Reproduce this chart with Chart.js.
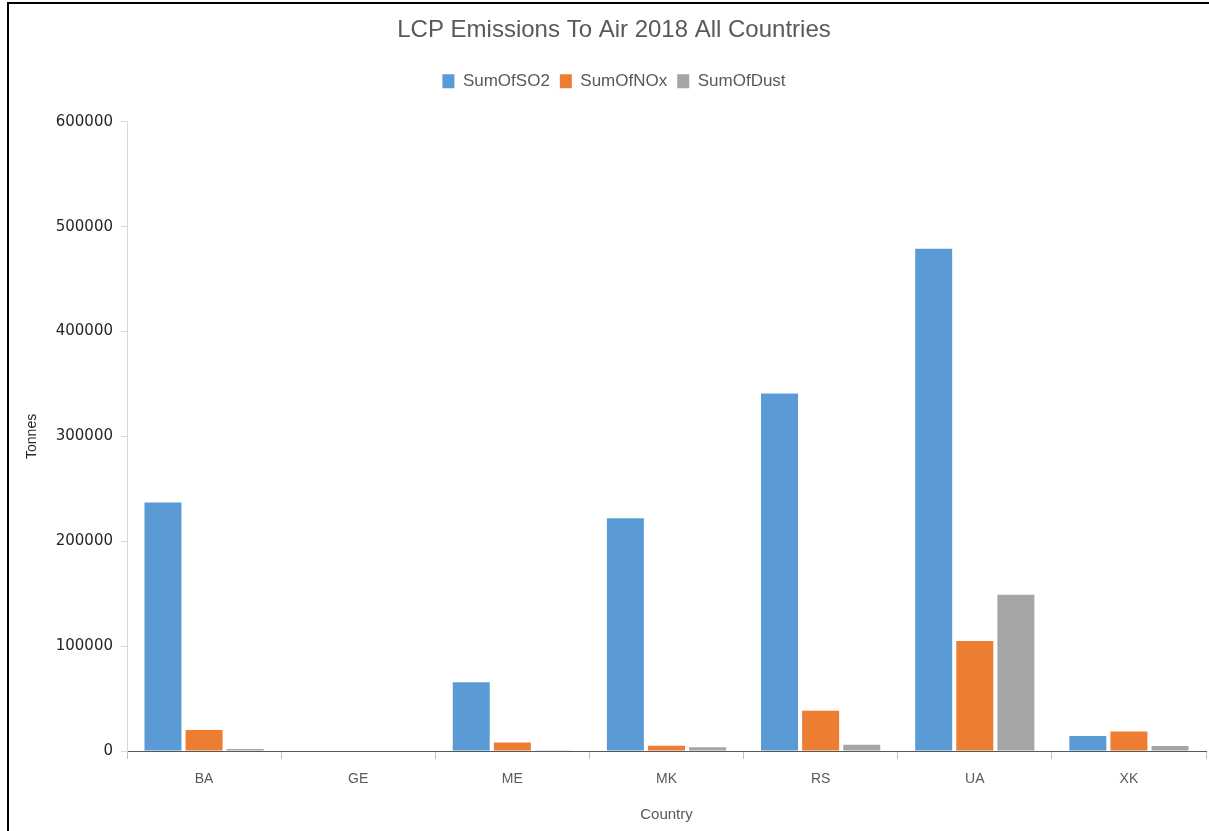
<!DOCTYPE html>
<html>
<head>
<meta charset="utf-8">
<script src="https://cdn.jsdelivr.net/npm/chart.js@4"></script>
<style>
  html, body { margin: 0; padding: 0; background: #fff; }
  #frame {
    position: absolute; left: 7px; top: 2px; width: 1300px; height: 900px;
    border: 2px solid #000; box-sizing: border-box;
  }
  #wrap { position: absolute; left: 0; top: 0; width: 1209px; height: 831px; }
</style>
</head>
<body>
<div id="frame"></div>
<div id="wrap"><canvas id="emissionsChart" width="1209" height="831"></canvas></div>
<script>
// Chart data
const countries = ['BA', 'GE', 'ME', 'MK', 'RS', 'UA', 'XK'];
const sumOfSO2 = [237000, 0, 65500, 222000, 341000, 479000, 14300];
const sumOfNOx = [20000, 0, 8000, 5000, 38500, 105000, 18500];
const sumOfDust = [2000, 0, 300, 3500, 6000, 149000, 4800];
const yTicks = [0, 100000, 200000, 300000, 400000, 500000, 600000];

const GREY_TEXT = '#595959';

// pushes the plot area down a bit below the legend
const legendMargin = {
  id: 'legendMargin',
  beforeInit(chart) {
    const origFit = chart.legend.fit;
    chart.legend.fit = function () {
      origFit.bind(chart.legend)();
      this.height += 22;
    };
  }
};

const ctx = document.getElementById('emissionsChart').getContext('2d');

new Chart(ctx, {
  type: 'bar',
  data: {
    labels: countries,
    datasets: [
      { label: 'SumOfSO2', data: sumOfSO2, backgroundColor: '#5B9BD5' },
      { label: 'SumOfNOx', data: sumOfNOx, backgroundColor: '#ED7D31' },
      { label: 'SumOfDust', data: sumOfDust, backgroundColor: '#A5A5A5' }
    ]
  },
  options: {
    responsive: false,
    animation: false,
    layout: { padding: { left: 22, right: 3, top: 0, bottom: 0 } },
    plugins: {
      title: {
        display: true,
        text: 'LCP Emissions To Air 2018 All Countries',
        color: GREY_TEXT,
        font: { family: 'Liberation Sans', size: 24, weight: 'normal' },
        padding: { top: 16, bottom: 18 }
      },
      legend: {
        position: 'top',
        labels: {
          color: GREY_TEXT,
          font: { family: 'Liberation Sans', size: 17 },
          boxWidth: 12,
          boxHeight: 14,
          padding: 10
        }
      },
      tooltip: { enabled: false }
    },
    scales: {
      x: {
        grid: { offset: true, drawOnChartArea: false, color: '#bfbfbf', tickLength: 8 },
        border: { color: '#595959', width: 1 },
        ticks: { color: GREY_TEXT, font: { family: 'Liberation Sans', size: 14 }, padding: 12 },
        title: {
          display: true, text: 'Country', color: GREY_TEXT,
          font: { family: 'Liberation Sans', size: 15 }, padding: { top: 7, bottom: 7 }
        },
        afterFit(scale) { scale.height = 80; }
      },
      y: {
        min: 0,
        max: 600000,
        afterBuildTicks(scale) { scale.ticks = yTicks.map(v => ({ value: v })); },
        grid: { drawOnChartArea: false, color: '#d9d9d9', tickLength: 6 },
        border: { color: '#d9d9d9' },
        ticks: {
          color: '#262626',
          font: { family: 'DejaVu Sans', size: 15 },
          padding: 8,
          callback: v => String(v)
        },
        title: {
          display: true, text: 'Tonnes', color: '#262626',
          font: { family: 'Liberation Sans', size: 14 }, padding: { top: 2, bottom: 0 }
        },
        afterFit(scale) { scale.width = 105; }
      }
    }
  },
  plugins: [legendMargin]
});
</script>
</body>
</html>
